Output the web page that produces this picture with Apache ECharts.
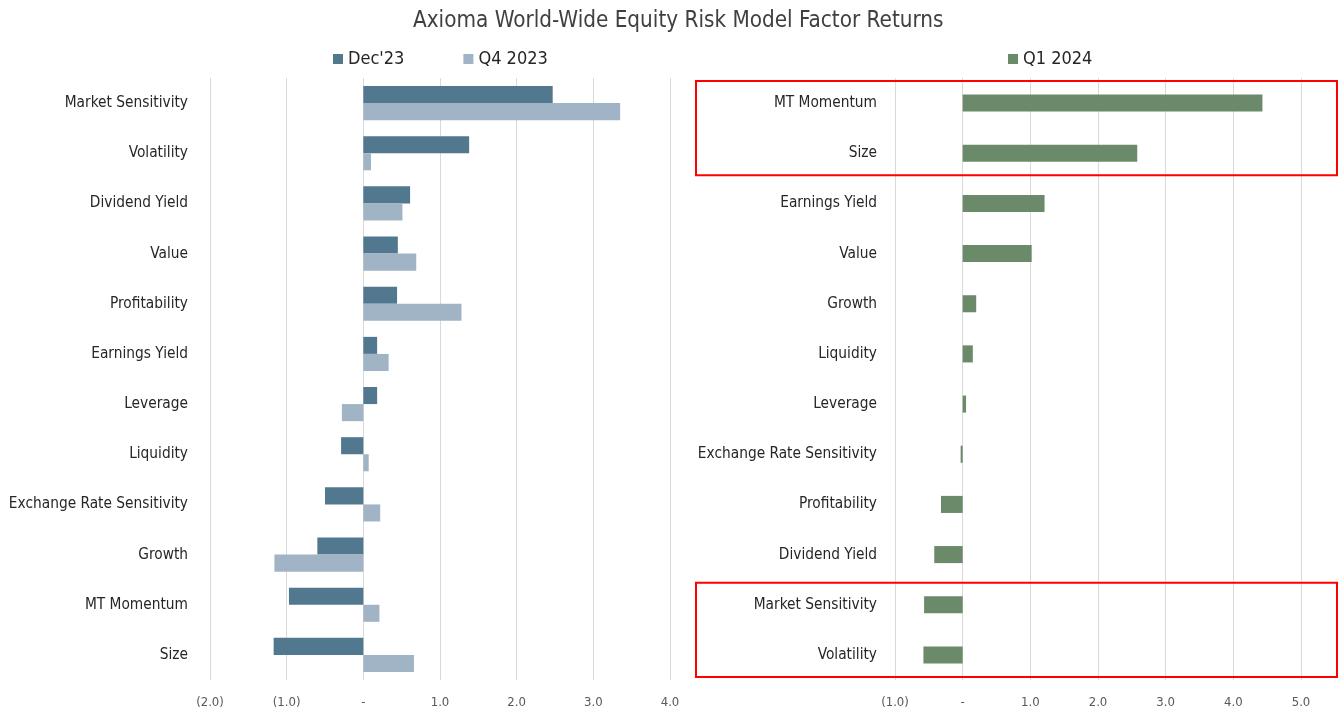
<!DOCTYPE html>
<html>
<head>
<meta charset="utf-8">
<title>Axioma World-Wide Equity Risk Model Factor Returns</title>
<script src="https://cdn.jsdelivr.net/npm/echarts@6/dist/echarts.min.js"></script>
<style>
  html, body { margin: 0; padding: 0; background: #fff; }
  #chart { width: 1339px; height: 715px; }
</style>
</head>
<body>
<div id="chart"></div>
<script>
// left panel: Dec'23 vs Q4 2023
const leftCategories = ['Market Sensitivity', 'Volatility', 'Dividend Yield', 'Value', 'Profitability',
  'Earnings Yield', 'Leverage', 'Liquidity', 'Exchange Rate Sensitivity', 'Growth', 'MT Momentum', 'Size']
const dec23 = [2.47, 1.38, 0.61, 0.45, 0.44, 0.18, 0.18, -0.29, -0.50, -0.60, -0.97, -1.17]
const q42023 = [3.35, 0.10, 0.51, 0.69, 1.28, 0.33, -0.28, 0.07, 0.22, -1.16, 0.21, 0.66]

// right panel: Q1 2024
const rightCategories = ['MT Momentum', 'Size', 'Earnings Yield', 'Value', 'Growth', 'Liquidity',
  'Leverage', 'Exchange Rate Sensitivity', 'Profitability', 'Dividend Yield', 'Market Sensitivity', 'Volatility']
const q12024 = [4.43, 2.58, 1.21, 1.02, 0.20, 0.15, 0.05, -0.03, -0.32, -0.42, -0.57, -0.58]

// axis ranges
const leftAxis = [-2, 4, 1]
const rightAxis = [-1, 5, 1]

// boxed factors on the right panel
const boxedGroups = [['MT Momentum', 'Size'], ['Market Sensitivity', 'Volatility']]

const font = '"Liberation Sans Narrow", "DejaVu Sans Condensed", "Roboto", sans-serif'

function tickFmt(v) {
  if (Math.abs(v) < 1e-9) return '-'
  if (v < 0) return '(' + Math.abs(v).toFixed(1) + ')'
  return v.toFixed(1)
}

function valueAxis(idx, range) {
  return {
    type: 'value',
    gridIndex: idx,
    min: range[0],
    max: range[1],
    interval: range[2],
    axisLine: { show: false },
    axisTick: { show: false },
    splitLine: { lineStyle: { color: '#d9d9d9', width: 1 } },
    axisLabel: { color: '#595959', fontSize: 13, fontFamily: font, margin: 16, formatter: tickFmt }
  }
}

function catAxis(idx, cats, margin) {
  return {
    type: 'category',
    gridIndex: idx,
    data: cats,
    inverse: true,
    axisLine: { show: false },
    axisTick: { show: false },
    axisLabel: { color: '#262626', fontSize: 15.3, fontFamily: font, margin: margin }
  }
}

const chart = echarts.init(document.getElementById('chart'))

chart.setOption({
  animation: false,
  textStyle: { fontFamily: font },
  title: {
    text: 'Axioma World-Wide Equity Risk Model Factor Returns',
    left: 408,
    top: 5,
    textStyle: { color: '#404040', fontSize: 22.3, fontWeight: 'normal', fontFamily: font }
  },
  legend: [
    {
      data: ["Dec'23", 'Q4 2023'],
      left: 328,
      top: 45,
      icon: 'rect',
      itemWidth: 10,
      itemHeight: 10,
      itemGap: 59,
      textStyle: { color: '#262626', fontSize: 18, fontFamily: font }
    },
    {
      data: ['Q1 2024'],
      left: 1003,
      top: 45,
      icon: 'rect',
      itemWidth: 10,
      itemHeight: 10,
      textStyle: { color: '#262626', fontSize: 18, fontFamily: font }
    }
  ],
  grid: [
    { left: 210, right: 669, top: 78, bottom: 35 },
    { left: 895, right: 38, top: 78, bottom: 35 }
  ],
  xAxis: [valueAxis(0, leftAxis), valueAxis(1, rightAxis)],
  yAxis: [catAxis(0, leftCategories, 22), catAxis(1, rightCategories, 18)],
  series: [
    {
      name: "Dec'23",
      type: 'bar',
      xAxisIndex: 0,
      yAxisIndex: 0,
      data: dec23,
      barGap: '0%',
      barCategoryGap: '32%',
      itemStyle: { color: '#52788f' }
    },
    {
      name: 'Q4 2023',
      type: 'bar',
      xAxisIndex: 0,
      yAxisIndex: 0,
      data: q42023,
      barGap: '0%',
      barCategoryGap: '32%',
      itemStyle: { color: '#a0b4c6' }
    },
    {
      name: 'Q1 2024',
      type: 'bar',
      xAxisIndex: 1,
      yAxisIndex: 1,
      data: q12024,
      barCategoryGap: '66%',
      itemStyle: { color: '#6b8a6a' }
    }
  ]
})

// red boxes around the highlighted factor pairs
const boxes = boxedGroups.map(function (group) {
  const y1 = chart.convertToPixel({ yAxisIndex: 1 }, group[0])
  const y2 = chart.convertToPixel({ yAxisIndex: 1 }, group[group.length - 1])
  return {
    type: 'rect',
    shape: { x: 696, y: y1 - 22, width: 641, height: y2 - y1 + 44 },
    style: { fill: 'none', stroke: '#ff0000', lineWidth: 2 },
    z: 100
  }
})
chart.setOption({ graphic: boxes })
</script>
</body>
</html>
